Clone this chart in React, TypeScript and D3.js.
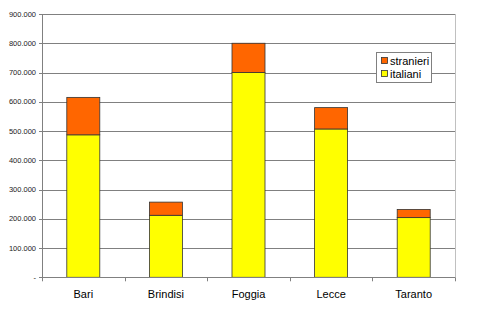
import React from "react";
import * as d3 from "d3";

const categories = ["Bari", "Brindisi", "Foggia", "Lecce", "Taranto"];
const italiani = [487000, 212000, 700000, 507000, 204000];
const stranieri = [128000, 45000, 100000, 73000, 28000];
const yTicks = [0, 100000, 200000, 300000, 400000, 500000, 600000, 700000, 800000, 900000];
const seriesNames = ["italiani", "stranieri"];
const seriesColors = ["#FFFF00", "#FF6600"];

const W = 500, H = 311;
const left = 42, right = 455, top = 14, bottom = 277.3;

export default function App() {
  const x = d3.scaleBand().domain(categories).range([left, right]).paddingInner(0.6).paddingOuter(0.3);
  const xb = d3.scaleBand().domain(categories).range([left, right]);
  const y = d3.scaleLinear().domain([0, 900000]).range([bottom, top]);
  const fmt = (v: number) => (v === 0 ? "-" : d3.format(",")(v).replace(/,/g, "."));
  const data = categories.map((c, i) => ({ cat: c, italiani: italiani[i], stranieri: stranieri[i] }));
  const stack = d3.stack<any>().keys(seriesNames)(data);
  const bw = 33;
  return (
    <svg width={W} height={H} style={{ position: "absolute", left: 0, top: 0, background: "#fff" }} fontFamily="Arial, Liberation Sans, sans-serif">
      {yTicks.filter(t => t > 0).map(t => (
        <line key={t} x1={left} x2={right} y1={Math.round(y(t)) + 0.5} y2={Math.round(y(t)) + 0.5} stroke="#808080" strokeWidth={1} />
      ))}
      <line x1={right + 0.5} x2={right + 0.5} y1={top} y2={bottom} stroke="#c0c0c0" strokeWidth={1} />
      {stack.map((s, si) => (
        <g key={si}>
          {s.map((d, i) => (
            <rect key={i} x={(xb(categories[i]) as number) + xb.bandwidth() / 2 - bw / 2} y={y(d[1])} width={bw} height={y(d[0]) - y(d[1])} fill={seriesColors[si]} stroke="#333" strokeWidth={0.8} />
          ))}
        </g>
      ))}
      <line x1={left + 0.5} x2={left + 0.5} y1={top} y2={bottom} stroke="#808080" />
      <line x1={left} x2={right} y1={Math.round(bottom) + 0.5} y2={Math.round(bottom) + 0.5} stroke="#808080" />
      {yTicks.map(t => (
        <g key={t}>
          <line x1={left - 3} x2={left} y1={Math.round(y(t)) + 0.5} y2={Math.round(y(t)) + 0.5} stroke="#808080" />
          <text x={36} y={y(t)} dy="0.35em" textAnchor="end" fontSize={7.5} fill="#222">{fmt(t)}</text>
        </g>
      ))}
      {categories.map((c, i) => (
        <g key={c}>
          <line x1={Math.round((xb(c) as number) + xb.bandwidth()) + 0.5} x2={Math.round((xb(c) as number) + xb.bandwidth()) + 0.5} y1={bottom} y2={bottom + 4} stroke="#808080" />
          <text x={(xb(c) as number) + xb.bandwidth() / 2} y={298} textAnchor="middle" fontSize={11} fill="#000">{c}</text>
        </g>
      ))}
      <line x1={left + 0.5} x2={left + 0.5} y1={bottom} y2={bottom + 4} stroke="#808080" />
      <g>
        <rect x={376.5} y={52.5} width={55} height={30} fill="#fff" stroke="#808080" />
        {["stranieri", "italiani"].map((n, i) => (
          <g key={n}>
            <rect x={381.5} y={57.5 + i * 13} width={6} height={6} fill={n === "stranieri" ? seriesColors[1] : seriesColors[0]} stroke="#333" strokeWidth={0.8} />
            <text x={390} y={61 + i * 13} dy="0.35em" fontSize={11} fill="#000">{n}</text>
          </g>
        ))}
      </g>
    </svg>
  );
}
